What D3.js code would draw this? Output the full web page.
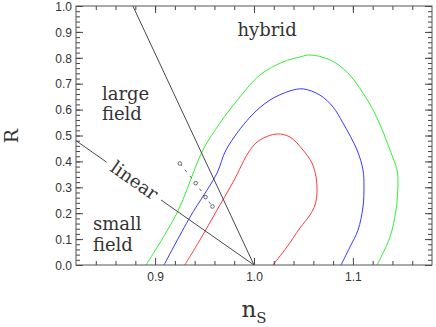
<!DOCTYPE html>
<html>
<head>
<meta charset="utf-8">
<script src="https://cdn.jsdelivr.net/npm/d3@7"></script>
<style>
  body { margin: 0; background: #fff; }
  svg { display: block; }
  .tick text { font-family: "Liberation Sans", Arial, sans-serif; font-size: 12px; fill: #333; }
  .tick line { stroke: #444; }
  .domain { stroke: none; }
  .lbl { font-family: "DejaVu Serif", serif; font-size: 18px; fill: #333; }
</style>
</head>
<body>
<svg id="chart" width="436" height="327"></svg>
<script>
const svg = d3.select("#chart");

// contour data (n_S, R)
const contourRed = [
  [0.930, 0], [0.9454, 0.097], [0.9626, 0.212], [0.9788, 0.320], [0.996, 0.444],
  [1.0061, 0.483], [1.0233, 0.506], [1.0364, 0.494], [1.0495, 0.444], [1.0586, 0.394],
  [1.0627, 0.340], [1.0637, 0.278], [1.0617, 0.232], [1.0566, 0.193], [1.0465, 0.143],
  [1.0334, 0.070], [1.0192, 0]
];
const contourBlue = [
  [0.909, 0], [0.9353, 0.185], [0.9626, 0.355], [0.9717, 0.444], [0.996, 0.571],
  [1.0162, 0.637], [1.0364, 0.672], [1.0495, 0.680], [1.0667, 0.656], [1.0799, 0.610],
  [1.090, 0.548], [1.1042, 0.444], [1.1102, 0.367], [1.1112, 0.301], [1.1102, 0.224],
  [1.1052, 0.135], [1.0971, 0.070], [1.088, 0]
];
const contourGreen = [
  [0.8908, 0], [0.9221, 0.201], [0.9484, 0.444], [0.9656, 0.548], [0.9858, 0.649],
  [1.0061, 0.734], [1.0293, 0.784], [1.0465, 0.803], [1.0566, 0.811], [1.0768, 0.792],
  [1.094, 0.745], [1.1102, 0.664], [1.1244, 0.568], [1.1375, 0.444], [1.1446, 0.367],
  [1.1456, 0.317], [1.1436, 0.212], [1.1375, 0.108], [1.1244, 0]
];
const contours = [
  { pts: contourGreen, color: "#33ee33" },
  { pts: contourBlue, color: "#3939ff" },
  { pts: contourRed, color: "#ff3a3a" }
];

// boundary lines
const lineHybrid = [[0.8775, 1.0], [1.0, 0]];
const lineLinearA = [[0.82, 0.48], [0.851, 0.397]];
const lineLinearB = [[0.906, 0.251], [1.0, 0]];

// model points
const modelPoints = [[0.925, 0.392], [0.941, 0.316], [0.951, 0.262], [0.958, 0.226]];

const xMajor = [0.9, 1.0, 1.1];
const xMinor = d3.range(0.84, 1.17, 0.02);
const yMajor = d3.range(0, 1.01, 0.1);
const yMinor = d3.range(0.02, 1.0, 0.02);

const regionLabels = [
  { text: "hybrid", n: 0.9833, R: 0.884 },
  { text: "large", n: 0.8462, R: 0.637 },
  { text: "field", n: 0.8462, R: 0.560 },
  { text: "small", n: 0.8371, R: 0.135 },
  { text: "field", n: 0.8371, R: 0.054 }
];

const x = d3.scaleLinear().domain([0.82, 1.18]).range([76, 432]);
const y = d3.scaleLinear().domain([0, 1]).range([265, 6]);

svg.append("clipPath").attr("id", "clip")
  .append("rect").attr("x", 76).attr("y", 6).attr("width", 356).attr("height", 259);

const plot = svg.append("g").attr("clip-path", "url(#clip)");

const line = d3.line().x((d) => x(d[0])).y((d) => y(d[1]));
const smooth = d3.line().x((d) => x(d[0])).y((d) => y(d[1])).curve(d3.curveCatmullRom.alpha(0.5));

plot.selectAll("path.contour")
  .data(contours)
  .join("path")
  .attr("class", "contour")
  .attr("d", (d) => smooth(d.pts))
  .attr("fill", "none")
  .attr("stroke", (d) => d.color)
  .attr("stroke-width", 1);

plot.selectAll("path.bound")
  .data([lineHybrid, lineLinearA, lineLinearB])
  .join("path")
  .attr("class", "bound")
  .attr("d", line)
  .attr("fill", "none")
  .attr("stroke", "#333")
  .attr("stroke-width", 0.9);

plot.append("path")
  .attr("d", line(modelPoints))
  .attr("fill", "none")
  .attr("stroke", "#444")
  .attr("stroke-width", 0.8)
  .attr("stroke-dasharray", "3,5");

plot.selectAll("circle.pt")
  .data(modelPoints)
  .join("circle")
  .attr("class", "pt")
  .attr("cx", (d) => x(d[0]))
  .attr("cy", (d) => y(d[1]))
  .attr("r", 1.8)
  .attr("fill", "#fff")
  .attr("stroke", "#444")
  .attr("stroke-width", 0.8);

// axes with inward ticks, all four sides
function addAxis(axis, transform, values, size, labels) {
  const g = svg.append("g").attr("transform", transform)
    .call(axis.tickValues(values).tickSizeInner(size).tickSizeOuter(0).tickPadding(labels ? 5 - size : 0)
      .tickFormat(labels ? d3.format(".1f") : ""));
  return g;
}
addAxis(d3.axisBottom(x), "translate(0,265)", xMajor, -7, true);
addAxis(d3.axisBottom(x), "translate(0,265)", xMinor.filter((v) => !xMajor.some((m) => Math.abs(m - v) < 1e-6)), -4, false);
addAxis(d3.axisTop(x), "translate(0,6)", xMajor, -7, false);
addAxis(d3.axisTop(x), "translate(0,6)", xMinor, -4, false);
addAxis(d3.axisLeft(y), "translate(76,0)", yMajor, -7, true);
addAxis(d3.axisLeft(y), "translate(76,0)", yMinor, -4, false);
addAxis(d3.axisRight(y), "translate(432,0)", yMajor, -7, false);
addAxis(d3.axisRight(y), "translate(432,0)", yMinor, -4, false);

svg.selectAll(".tick text").attr("dy", null);
svg.selectAll("g").filter(function () { return this.getAttribute("transform") === "translate(0,265)"; })
  .selectAll(".tick text").attr("y", 16);
svg.selectAll("g").filter(function () { return this.getAttribute("transform") === "translate(76,0)"; })
  .selectAll(".tick text").attr("x", -4).attr("dy", "0.35em");

svg.append("rect")
  .attr("x", 76).attr("y", 6).attr("width", 356).attr("height", 259)
  .attr("fill", "none").attr("stroke", "#555").attr("stroke-width", 1);

// region labels
svg.selectAll("text.lbl.region")
  .data(regionLabels)
  .join("text")
  .attr("class", "lbl region")
  .attr("x", (d) => x(d.n))
  .attr("y", (d) => y(d.R))
  .text((d) => d.text);

// "linear" along its line
const angle = Math.atan2(y(0) - y(0.48), x(1.0) - x(0.82)) * 180 / Math.PI;
const lx = x(0.8785), ly = y((8 / 3) * (1 - 0.8785));
svg.append("text")
  .attr("class", "lbl")
  .attr("transform", `translate(${lx},${ly}) rotate(${angle})`)
  .attr("text-anchor", "middle")
  .attr("dy", "0.3em")
  .text("linear");

// axis titles
svg.append("text")
  .attr("class", "lbl")
  .attr("transform", "translate(18,136) rotate(-90)")
  .attr("text-anchor", "middle")
  .style("font-size", "19px")
  .text("R");

const xt = svg.append("text")
  .attr("class", "lbl")
  .attr("x", 254)
  .attr("y", 317)
  .attr("text-anchor", "middle")
  .style("font-size", "23px");
xt.append("tspan").text("n");
xt.append("tspan").attr("dy", 6).style("font-size", "15px").text("S");
</script>
</body>
</html>
